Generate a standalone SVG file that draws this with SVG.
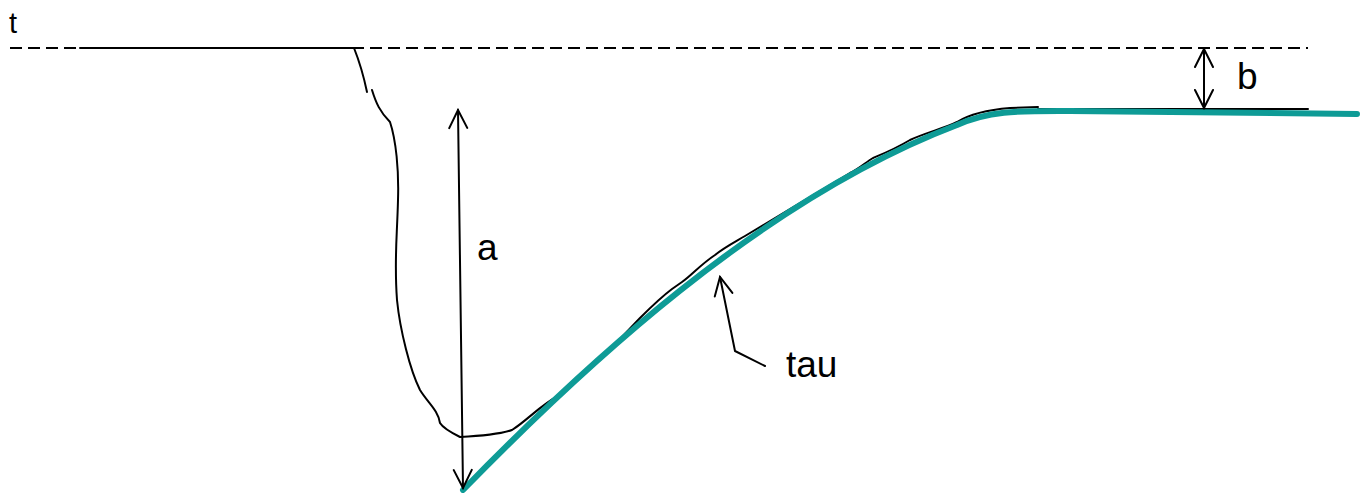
<svg xmlns="http://www.w3.org/2000/svg" width="1370" height="493" viewBox="0 0 1370 493">
<style>
.lbl{font-family:"Liberation Sans",Arial,sans-serif;fill:#000}
.thin{fill:none;stroke:#000;stroke-width:2;stroke-linejoin:round;stroke-linecap:round}
.dash{fill:none;stroke:#000;stroke-width:2;stroke-dasharray:12,6}
.fit{fill:none;stroke:#0e9b96;stroke-width:6;stroke-linecap:round;stroke-linejoin:round}
</style>
<defs>
<marker id="open" markerUnits="userSpaceOnUse" viewBox="-20 -11 22 22" refX="0" refY="0" markerWidth="22" markerHeight="22" orient="auto-start-reverse">
<path d="M-18,-9 L0,0 L-18,9" fill="none" stroke="#000" stroke-width="2" stroke-linejoin="miter" stroke-linecap="round"/>
</marker>
</defs>
<rect width="1370" height="493" fill="#fff"/>
<g id="baseline">
<line class="dash" x1="10" y1="48" x2="1308" y2="48"/>
<line class="thin" x1="80" y1="48" x2="354" y2="48"/>
</g>
<g id="measured-curve">
<path class="thin" d="M354,48 C358,58 362,68 367,92"/>
<path class="thin" d="M372,90 C376,103 380,112 390,122 C396,140 399,170 398,200 C397,240 394,260 397,300 C400,330 410,370 420,390 C428,403 438,410 440,423 C443,428 450,432 460,437 C480,436 500,434 512,430 C528,420 540,405 560,395 L600,360 L640,318 C650,308 660,298 672,289 L682,282 C692,275 700,265 715,255 C725,247 735,242 745,236 L850,173 C860,168 866,162 873,158 C885,153 895,149 910,140 C925,133 945,128 957,122 C970,114 985,110 1010,108 L1038,107"/>
<line class="thin" x1="1038" y1="109" x2="1308" y2="109"/>
</g>
<g id="fit-curve">
<path class="fit" d="M463,490 C580,370 760,200 957,125 C990,110 1020,111 1070,111 L1357,114"/>
</g>
<g id="connectors">
<line class="thin" x1="463" y1="488" x2="458" y2="110" marker-start="url(#open)" marker-end="url(#open)"/>
<line class="thin" x1="1204" y1="108" x2="1204" y2="49" marker-start="url(#open)" marker-end="url(#open)"/>
<polyline class="thin" points="765,366 735,351 720,277" marker-end="url(#open)"/>
</g>
<g id="labels">
<text class="lbl" x="9" y="33" font-size="29">t</text>
<text class="lbl" x="477" y="260" font-size="37">a</text>
<text class="lbl" x="1237" y="89" font-size="37">b</text>
<text class="lbl" x="786" y="377" font-size="37">tau</text>
</g>
</svg>
